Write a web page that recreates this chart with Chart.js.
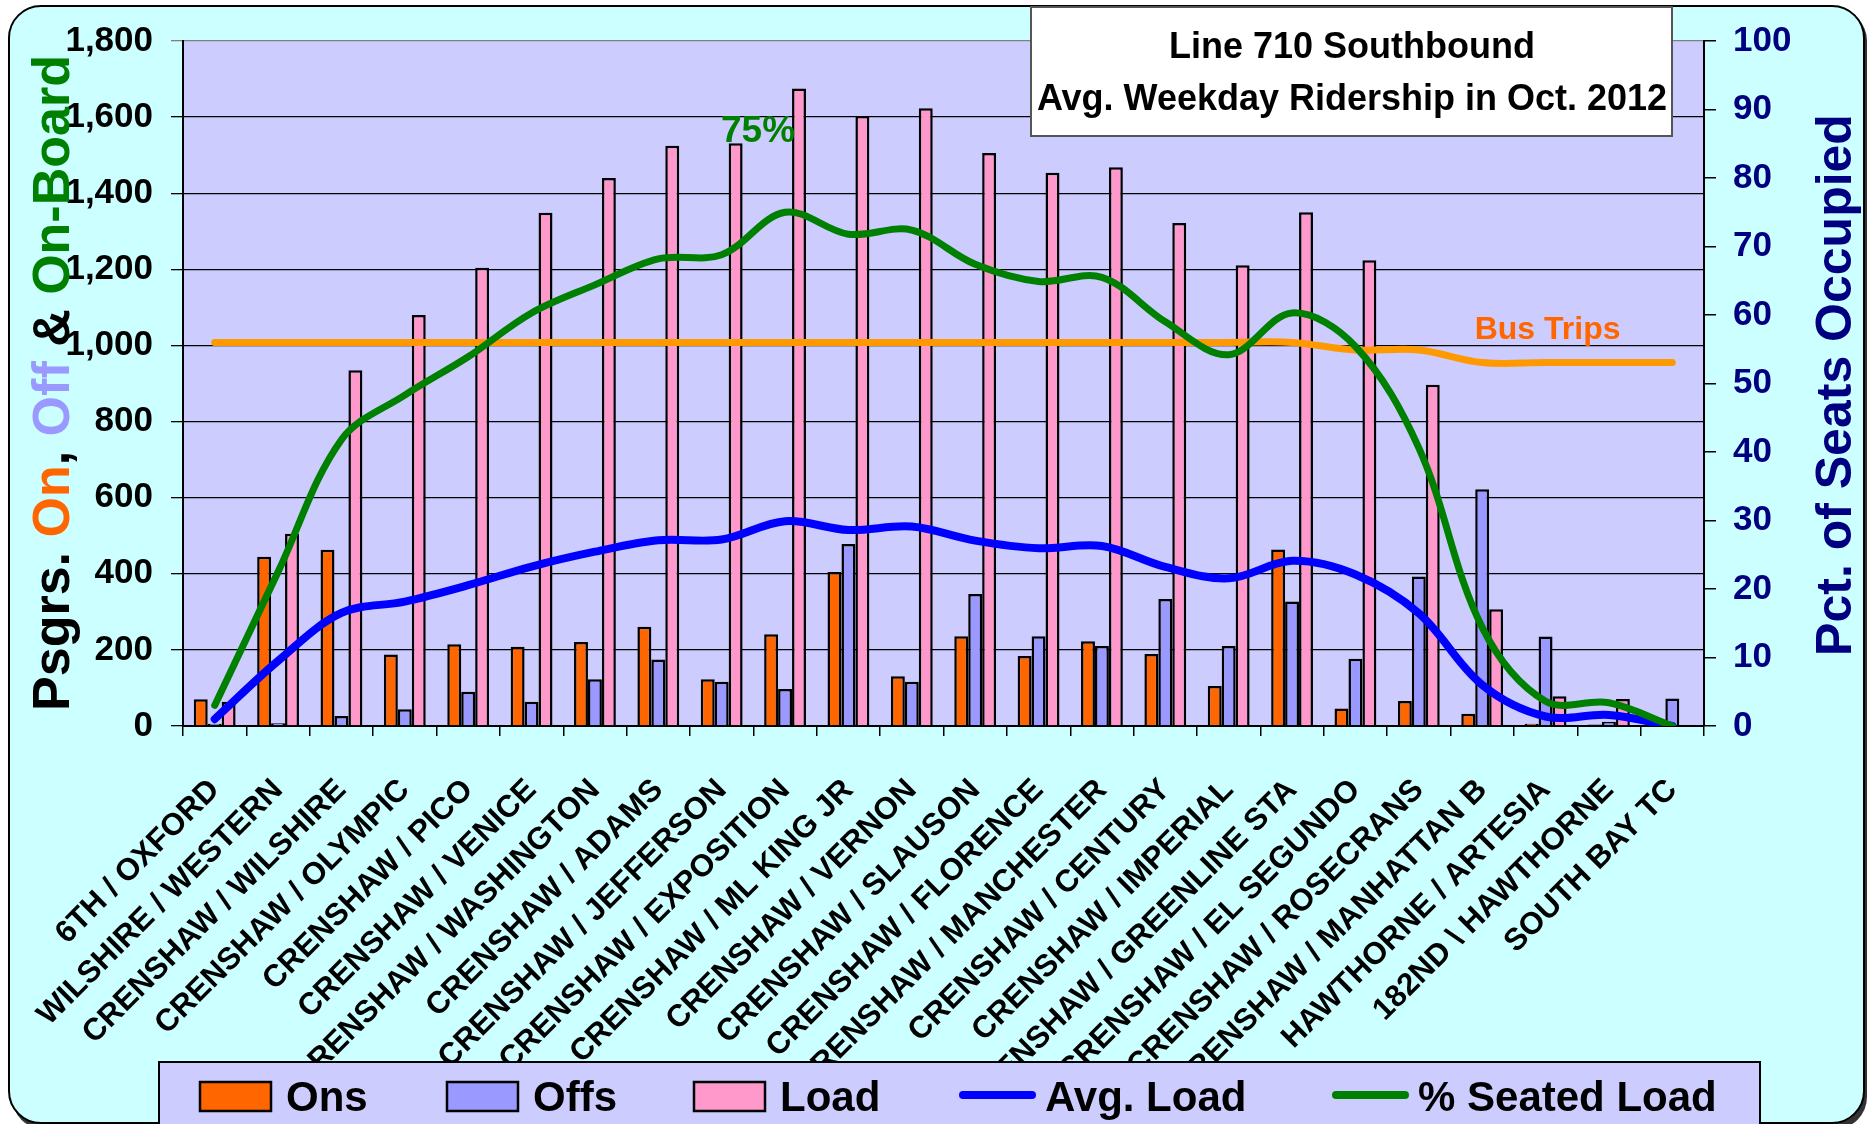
<!DOCTYPE html>
<html>
<head>
<meta charset="utf-8">
<script src="https://cdn.jsdelivr.net/npm/chart.js@4.4.1/dist/chart.umd.min.js"></script>
<style>
    html, body { margin: 0; padding: 0; background: #fff; }
    canvas { display: block; }
</style>
</head>
<body>
<canvas id="ridership-chart" width="1868" height="1124"></canvas>
<script>
// Stops along Line 710 southbound
const stops = [
    '6TH / OXFORD', 'WILSHIRE / WESTERN', 'CRENSHAW / WILSHIRE', 'CRENSHAW / OLYMPIC',
    'CRENSHAW / PICO', 'CRENSHAW / VENICE', 'CRENSHAW / WASHINGTON', 'CRENSHAW / ADAMS',
    'CRENSHAW / JEFFERSON', 'CRENSHAW / EXPOSITION', 'CRENSHAW / ML KING JR', 'CRENSHAW / VERNON',
    'CRENSHAW / SLAUSON', 'CRENSHAW / FLORENCE', 'CRENSHAW / MANCHESTER', 'CRENSHAW / CENTURY',
    'CRENSHAW / IMPERIAL', 'CRENSHAW / GREENLINE STA', 'CRENSHAW / EL SEGUNDO', 'CRENSHAW / ROSECRANS',
    'CRENSHAW / MANHATTAN B', 'HAWTHORNE / ARTESIA', '182ND \\ HAWTHORNE', 'SOUTH BAY TC'
];

const ons = [70, 445, 463, 188, 215, 208, 221, 261, 123, 241, 405, 131, 236, 184, 223, 189, 105, 464, 46, 66, 32, 6, 4, 0];
const offs = [6, 7, 26, 44, 90, 64, 123, 175, 116, 97, 478, 116, 347, 236, 210, 334, 210, 327, 177, 393, 622, 235, 11, 72];
const load = [64, 505, 935, 1080, 1204, 1349, 1440, 1525, 1531, 1675, 1603, 1623, 1506, 1454, 1468, 1322, 1211, 1350, 1224, 897, 307, 78, 71, 0];
const busTrips = [1008, 1008, 1008, 1008, 1008, 1008, 1008, 1008, 1008, 1008, 1008, 1008, 1008, 1008, 1008, 1008, 1008, 1008, 988, 988, 955, 955, 955, 955];
const avgLoad = [18, 171, 297, 327, 370, 419, 458, 488, 490, 538, 515, 524, 487, 467, 473, 418, 388, 434, 398, 296, 108, 25, 29, 0];
const seatedPct = [3, 22.5, 41.8, 48.3, 53.9, 60.3, 64.4, 68.2, 68.8, 75, 71.8, 72.4, 67.4, 64.9, 65.5, 59.0, 54.2, 60.3, 55.4, 40.6, 14.4, 3.6, 3.4, 0];

const seriesNames = ['Ons', 'Offs', 'Load', 'Avg. Load', '% Seated Load'];
const titleLines = ['Line 710 Southbound', 'Avg. Weekday Ridership in Oct. 2012'];
const peakLabel = '75%';
const peakIndex = 9;

const loadAxis = { max: 1800, step: 200 };
const pctAxis = { max: 100, step: 10 };

const FONT = "'Liberation Sans', Arial, sans-serif";
const font = (size) => `bold ${size}px ${FONT}`;

const COLORS = {
    ons: '#FF6600',
    offs: '#9999FF',
    load: '#FF99CC',
    bus: '#FF9900',
    avg: '#0000FF',
    seated: '#008000',
    navy: '#000080',
    panel: '#CCFFFF',
    plot: '#CCCCFF'
};

const decorPlugin = {
    id: 'decor',
    beforeDraw(chart) {
        const { ctx, chartArea: a } = chart;
        ctx.save();
        ctx.fillStyle = '#fff';
        ctx.fillRect(0, 0, chart.width, chart.height);

        // outer rounded panel with a little shadow
        ctx.beginPath();
        ctx.roundRect(12, 9, 1855, 1120, 32);
        ctx.fillStyle = '#333';
        ctx.fill();
        ctx.beginPath();
        ctx.roundRect(9, 6, 1855, 1117, 32);
        ctx.fillStyle = COLORS.panel;
        ctx.fill();
        ctx.lineWidth = 2;
        ctx.strokeStyle = '#000';
        ctx.stroke();

        // plot area
        ctx.fillStyle = COLORS.plot;
        ctx.fillRect(a.left, a.top, a.width, a.height);
        ctx.restore();
    },
    afterDraw(chart) {
        const { ctx } = chart;
        const xs = chart.scales.x, ys = chart.scales.y, ps = chart.scales.y2;
        ctx.save();

        // title box
        ctx.fillStyle = '#fff';
        ctx.fillRect(1031, 7, 641, 129);
        ctx.lineWidth = 2;
        ctx.strokeStyle = '#555';
        ctx.strokeRect(1031, 7, 641, 129);
        ctx.fillStyle = '#000';
        ctx.font = font(36);
        ctx.textAlign = 'center';
        ctx.textBaseline = 'alphabetic';
        ctx.fillText(titleLines[0], 1352, 58);
        ctx.fillText(titleLines[1], 1352, 110);

        // peak label on the seated load line
        ctx.fillStyle = COLORS.seated;
        ctx.font = font(37);
        ctx.fillText(peakLabel, xs.getPixelForValue(peakIndex) - 27, ps.getPixelForValue(seatedPct[peakIndex]) - 70);

        // bus trips label
        ctx.fillStyle = COLORS.ons;
        ctx.font = font(32);
        ctx.fillText('Bus Trips', xs.getPixelForValue(21) + 2, ys.getPixelForValue(busTrips[21]) - 24);

        // left axis title, multi coloured
        const leftParts = [
            ['Psgrs. ', '#000'], ['On', COLORS.ons], [', ', '#000'],
            ['Off', COLORS.offs], [' & ', '#000'], ['On-Board', COLORS.seated]
        ];
        ctx.font = font(52);
        ctx.textAlign = 'left';
        const total = leftParts.reduce((s, p) => s + ctx.measureText(p[0]).width, 0);
        ctx.save();
        ctx.translate(69, 383);
        ctx.rotate(-Math.PI / 2);
        let x = -total / 2;
        leftParts.forEach(([text, color]) => {
            ctx.fillStyle = color;
            ctx.fillText(text, x, 0);
            x += ctx.measureText(text).width;
        });
        ctx.restore();

        // right axis title
        ctx.save();
        ctx.translate(1851, 385);
        ctx.rotate(-Math.PI / 2);
        ctx.font = font(50);
        ctx.textAlign = 'center';
        ctx.fillStyle = COLORS.navy;
        ctx.fillText('Pct. of Seats Occupied', 0, 0);
        ctx.restore();

        // legend
        ctx.fillStyle = COLORS.plot;
        ctx.fillRect(159, 1062, 1601, 80);
        ctx.lineWidth = 2;
        ctx.strokeStyle = '#000';
        ctx.strokeRect(159, 1062, 1601, 80);

        const slots = [200, 447, 694, 959, 1332];
        const keyColors = [COLORS.ons, COLORS.offs, COLORS.load, COLORS.avg, COLORS.seated];
        ctx.font = font(42);
        ctx.textAlign = 'left';
        seriesNames.forEach((name, i) => {
            const left = slots[i];
            if (i < 3) {
                ctx.fillStyle = keyColors[i];
                ctx.fillRect(left, 1082, 71, 29);
                ctx.lineWidth = 2.5;
                ctx.strokeStyle = '#000';
                ctx.strokeRect(left, 1082, 71, 29);
            } else {
                ctx.beginPath();
                ctx.moveTo(left + 4, 1095);
                ctx.lineTo(left + 73, 1095);
                ctx.lineWidth = 8;
                ctx.lineCap = 'round';
                ctx.strokeStyle = keyColors[i];
                ctx.stroke();
            }
            ctx.fillStyle = '#000';
            ctx.fillText(name, left + 86, 1111);
        });

        ctx.restore();
    }
};

const barBase = {
    type: 'bar',
    borderColor: '#000',
    borderWidth: 2.5,
    yAxisID: 'y',
    order: 10
};

const lineBase = {
    type: 'line',
    pointRadius: 0,
    tension: 0.35,
    fill: false,
    borderCapStyle: 'round',
    borderJoinStyle: 'round'
};

new Chart(document.getElementById('ridership-chart'), {
    type: 'bar',
    data: {
        labels: stops,
        datasets: [
            { ...barBase, label: seriesNames[0], data: ons, backgroundColor: COLORS.ons },
            { ...barBase, label: seriesNames[1], data: offs, backgroundColor: COLORS.offs },
            { ...barBase, label: seriesNames[2], data: load, backgroundColor: COLORS.load },
            { ...lineBase, label: 'Bus Trips', data: busTrips, borderColor: COLORS.bus, borderWidth: 7, yAxisID: 'y', order: 3 },
            { ...lineBase, label: seriesNames[3], data: avgLoad, borderColor: COLORS.avg, borderWidth: 8, yAxisID: 'y', order: 2 },
            { ...lineBase, label: seriesNames[4], data: seatedPct, borderColor: COLORS.seated, borderWidth: 7, yAxisID: 'y2', order: 1 }
        ]
    },
    options: {
        responsive: false,
        animation: false,
        devicePixelRatio: 1,
        layout: { padding: { top: 41, left: 0, right: 0, bottom: 0 } },
        datasets: {
            bar: { barPercentage: 1, categoryPercentage: 0.66 }
        },
        plugins: {
            legend: { display: false },
            tooltip: { enabled: false }
        },
        scales: {
            x: {
                grid: { drawOnChartArea: false, drawTicks: true, tickLength: 10, color: '#000', lineWidth: 1.5 },
                border: { color: '#000', width: 2 },
                ticks: {
                    autoSkip: false,
                    minRotation: 45,
                    maxRotation: 45,
                    padding: 36,
                    color: '#000',
                    font: { family: FONT, size: 31, weight: 'bold' }
                },
                afterFit(scale) { scale.height = 398; }
            },
            y: {
                position: 'left',
                min: 0,
                max: loadAxis.max,
                ticks: {
                    stepSize: loadAxis.step,
                    padding: 18,
                    color: '#000',
                    font: { family: FONT, size: 35, weight: 'bold' }
                },
                grid: {
                    color: (c) => c.tick && c.tick.value === loadAxis.max ? '#808080' : '#000',
                    lineWidth: 1.3,
                    tickLength: 12
                },
                border: { color: '#000', width: 2 },
                afterFit(scale) { scale.width = 183; }
            },
            y2: {
                position: 'right',
                min: 0,
                max: pctAxis.max,
                ticks: {
                    stepSize: pctAxis.step,
                    padding: 17,
                    color: COLORS.navy,
                    font: { family: FONT, size: 35, weight: 'bold' }
                },
                grid: { drawOnChartArea: false, tickLength: 12, color: '#000', lineWidth: 1.5 },
                border: { color: '#000', width: 2 },
                afterFit(scale) { scale.width = 164; }
            }
        }
    },
    plugins: [decorPlugin]
});
</script>
</body>
</html>
